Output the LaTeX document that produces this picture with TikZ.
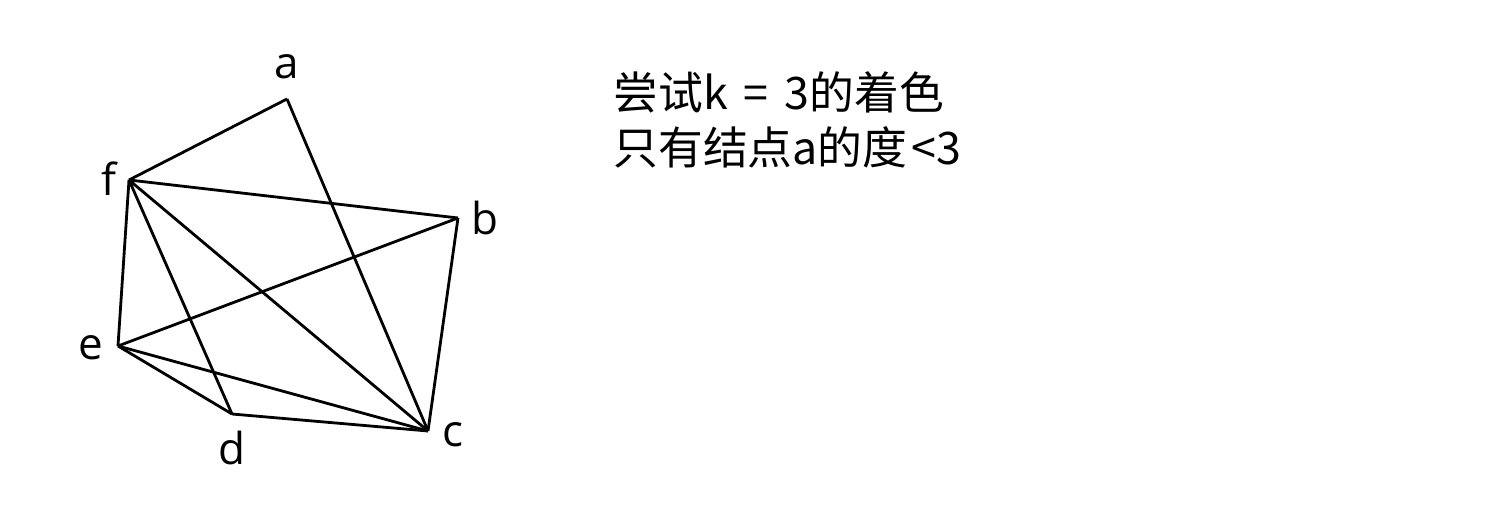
\documentclass[tikz,border=0pt]{standalone}
\usepackage{fontspec}
\setmainfont{Noto Sans CJK SC}
\newfontfamily\labelfont{Open Sans}
\tikzset{edge/.style = {
    line width=1.4pt,
    line join=miter,
  }
}
\tikzstyle{vlabel} = [inner sep=0pt, font=\labelfont\fontsize{22}{26}\selectfont]
\tikzstyle{note} = [inner sep=0pt, anchor=base west, align=left, font=\fontsize{22.4}{27.5}\selectfont]

\begin{document}
\begin{tikzpicture}[x=0.5pt, y=-0.5pt]
            \useasboundingbox (0,0) rectangle (1508,512);
            % vertices
            \coordinate (a) at (287 , 99);
            \coordinate (f) at (129 , 180);
            \coordinate (b) at (458 , 218);
            \coordinate (e) at (118 , 346);
            \coordinate (d) at (232 , 414);
            \coordinate (c) at (428 , 431);

            % labels
            \node[vlabel] (la) at (287 , 67) {a};
            \node[vlabel] (lf) at (109 , 179) {f};
            \node[vlabel] (lb) at (485 , 218) {b};
            \node[vlabel] (le) at (91 , 348) {e};
            \node[vlabel] (ld) at (232 , 448) {d};
            \node[vlabel] (lc) at (453 , 435) {c};

            %edges
            \draw[edge] (a) -- (f);
            \draw[edge] (a) -- (c);
            \draw[edge] (f) -- (b);
            \draw[edge] (f) -- (c);
            \draw[edge] (f) -- (d);
            \draw[edge] (f) -- (e);
            \draw[edge] (b) -- (e);
            \draw[edge] (b) -- (c);
            \draw[edge] (e) -- (d);
            \draw[edge] (e) -- (c);
            \draw[edge] (d) -- (c);

            % text
            \node[note] (t1) at (613 , 110) {尝试k\hspace{3pt} = \hspace{3pt}3的着色};
            \node[note] (t2) at (613 , 165) {只有结点a的度\hspace{2pt}<3};
\end{tikzpicture}
\end{document}
